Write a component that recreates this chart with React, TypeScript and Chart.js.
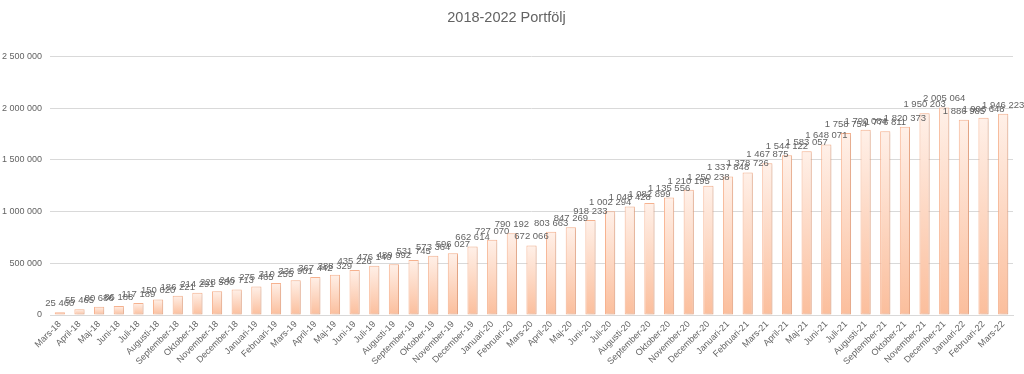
import React, { useEffect, useRef } from "react";
import { Chart, registerables } from "chart.js";

Chart.register(...registerables);

const TITLE = "2018-2022 Portfölj";

const months: string[] = [
  "Mars-18", "April-18", "Maj-18", "Juni-18", "Juli-18", "Augusti-18", "September-18", "Oktober-18", "November-18", "December-18",
  "Januari-19", "Februari-19", "Mars-19", "April-19", "Maj-19", "Juni-19", "Juli-19", "Augusti-19", "September-19", "Oktober-19", "November-19", "December-19",
  "Januari-20", "Februari-20", "Mars-20", "April-20", "Maj-20", "Juni-20", "Juli-20", "Augusti-20", "September-20", "Oktober-20", "November-20", "December-20",
  "Januari-21", "Februari-21", "Mars-21", "April-21", "Maj-21", "Juni-21", "Juli-21", "Augusti-21", "September-21", "Oktober-21", "November-21", "December-21",
  "Januari-22", "Februari-22", "Mars-22",
];

const portfolio: number[] = [
  25460, 55465, 80686, 86188, 117189, 150020, 186221, 214291, 228580, 246713,
  275465, 310255, 336901, 367442, 388329, 435226, 476140, 489992, 531745, 573364, 596027, 662614,
  727070, 790192, 672066, 803663, 847269, 918233, 1002294, 1048428, 1082899, 1135556, 1210195, 1250238,
  1337848, 1378726, 1467875, 1544122, 1583057, 1648071, 1758754, 1790084, 1776811, 1820373, 1950203, 2005064,
  1886985, 1906648, 1946223,
];

const yTicks: number[] = [0, 500000, 1000000, 1500000, 2000000, 2500000];

const fmt = (v: number) => String(Math.round(v)).replace(/\B(?=(\d{3})+(?!\d))/g, " ");

const FONT = "'Liberation Sans', 'DejaVu Sans', sans-serif";
const TEXT = "#636363";

const dataLabels = {
  id: "dataLabels",
  afterDatasetsDraw(chart: any) {
    const ctx = chart.ctx;
    const meta = chart.getDatasetMeta(0);
    ctx.save();
    ctx.font = `9.5px ${FONT}`;
    ctx.fillStyle = TEXT;
    ctx.textAlign = "center";
    ctx.textBaseline = "bottom";
    meta.data.forEach((el: any, i: number) => {
      ctx.fillText(fmt(portfolio[i]), el.x, el.y - 4);
    });
    ctx.restore();
  },
};

const barShadow = {
  id: "barShadow",
  beforeDatasetsDraw(chart: any) {
    const ctx = chart.ctx;
    ctx.save();
    ctx.shadowColor = "rgba(0,0,0,0.10)";
    ctx.shadowBlur = 3;
    ctx.shadowOffsetX = 2;
    ctx.shadowOffsetY = 1;
  },
  afterDatasetsDraw(chart: any) {
    chart.ctx.restore();
  },
};

export default function App() {
  const ref = useRef<HTMLCanvasElement | null>(null);

  useEffect(() => {
    document.body.style.margin = "0";
    const canvas = ref.current!;
    const chart = new Chart(canvas, {
      type: "bar",
      data: {
        labels: months,
        datasets: [
          {
            label: TITLE,
            data: portfolio,
            backgroundColor: (c: any) => {
              const ch = c.chart;
              const y = ch.scales?.y;
              if (!y || typeof c.raw !== "number") return "#fcd3bb";
              const top = y.getPixelForValue(c.raw);
              const bottom = y.getPixelForValue(0);
              if (!isFinite(top) || !isFinite(bottom) || top === bottom) return "#fcd3bb";
              const g = ch.ctx.createLinearGradient(0, top, 0, bottom);
              g.addColorStop(0, "#fff0e8");
              g.addColorStop(1, "#fbbe9c");
              return g;
            },
            borderColor: "#f8b390",
            borderWidth: 1,
            borderSkipped: false,
            barPercentage: 0.52,
            categoryPercentage: 1,
          },
        ],
      },
      options: {
        responsive: false,
        animation: false,
        devicePixelRatio: 1,
        layout: { padding: { top: 0, right: 11, bottom: 0, left: 0 } },
        plugins: {
          legend: { display: false },
          tooltip: { enabled: false },
          title: {
            display: true,
            text: TITLE,
            color: TEXT,
            font: { family: FONT, size: 14.5, weight: "normal" },
            padding: { top: 9, bottom: 30 },
          },
        },
        scales: {
          x: {
            grid: { display: false, drawTicks: false },
            border: { display: true, color: "#d9d9d9" },
            ticks: {
              color: TEXT,
              font: { family: FONT, size: 9 },
              minRotation: 45,
              maxRotation: 45,
              autoSkip: false,
              padding: 4,
            },
            afterFit: (s: any) => {
              s.height = 59;
            },
          },
          y: {
            min: 0,
            max: 2500000,
            afterBuildTicks: (s: any) => {
              s.ticks = yTicks.map((v) => ({ value: v }));
            },
            grid: { color: "#d9d9d9", drawTicks: false },
            border: { display: false },
            ticks: {
              color: TEXT,
              font: { family: FONT, size: 9 },
              padding: 8,
              callback: (v: any) => fmt(Number(v)),
            },
            afterFit: (s: any) => {
              s.width = 50;
            },
          },
        },
      },
      plugins: [barShadow, dataLabels],
    } as any);
    return () => chart.destroy();
  }, []);

  return <canvas ref={ref} width={1024} height={374} style={{ display: "block" }} />;
}
